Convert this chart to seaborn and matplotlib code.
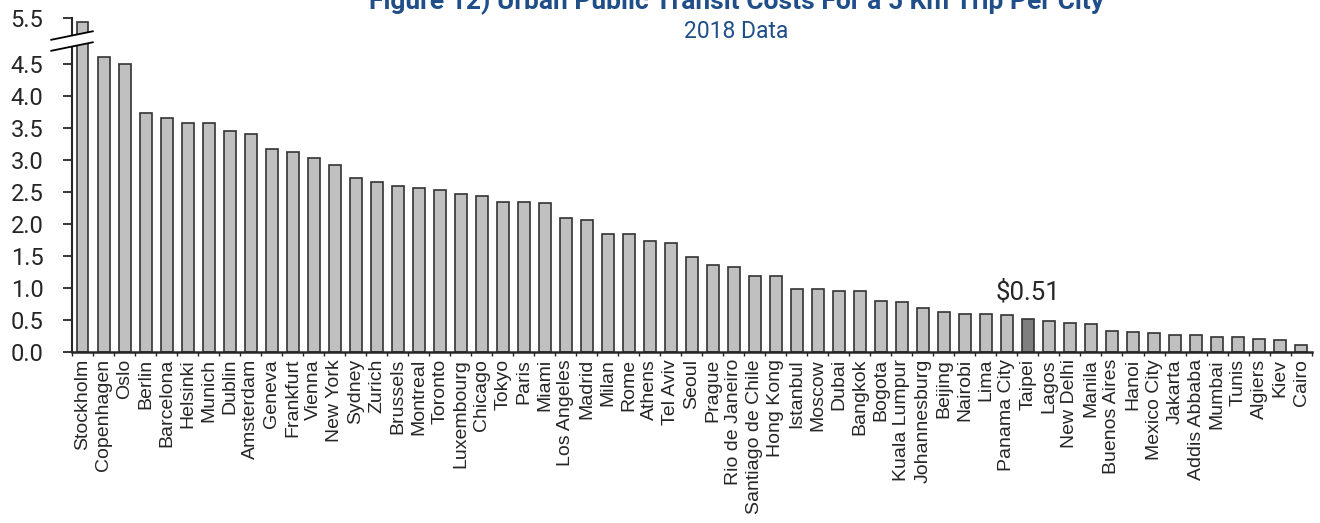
import numpy as np
import pandas as pd
import seaborn as sns
import matplotlib.pyplot as plt

# values (USD per 5 km trip, 2018)
cities = ["Stockholm", "Copenhagen", "Oslo", "Berlin", "Barcelona", "Helsinki", "Munich",
          "Dublin", "Amsterdam", "Geneva", "Frankfurt", "Vienna", "New York", "Sydney",
          "Zurich", "Brussels", "Montreal", "Toronto", "Luxembourg", "Chicago", "Tokyo",
          "Paris", "Miami", "Los Angeles", "Madrid", "Milan", "Rome", "Athens", "Tel Aviv",
          "Seoul", "Prague", "Rio de Janeiro", "Santiago de Chile", "Hong Kong", "Istanbul",
          "Moscow", "Dubai", "Bangkok", "Bogota", "Kuala Lumpur", "Johannesburg", "Beijing",
          "Nairobi", "Lima", "Panama City", "Taipei", "Lagos", "New Delhi", "Manila",
          "Buenos Aires", "Hanoi", "Mexico City", "Jakarta", "Addis Abbaba", "Mumbai",
          "Tunis", "Algiers", "Kiev", "Cairo"]
costs = [5.41, 4.65, 4.51, 3.74, 3.65, 3.58, 3.58, 3.46, 3.40, 3.18, 3.12, 3.03, 2.92, 2.72,
         2.66, 2.59, 2.57, 2.53, 2.47, 2.44, 2.34, 2.34, 2.33, 2.10, 2.07, 1.85, 1.85, 1.73,
         1.71, 1.49, 1.36, 1.33, 1.18, 1.18, 0.99, 0.98, 0.96, 0.96, 0.79, 0.78, 0.69, 0.63,
         0.60, 0.60, 0.58, 0.51, 0.49, 0.46, 0.44, 0.33, 0.32, 0.30, 0.27, 0.26, 0.23, 0.24,
         0.20, 0.19, 0.11]
highlight = "Taipei"
ytick_vals = [0.0, 0.5, 1.0, 1.5, 2.0, 2.5, 3.0, 3.5, 4.0, 4.5, 5.5]

# broken axis: above 4.5 the scale is squeezed
brk = 4.5
squeeze = 0.72
def to_axis(v):
    v = np.asarray(v, dtype=float)
    return np.where(v <= brk, v, brk + (v - brk) * squeeze)

df = pd.DataFrame({"city": cities, "cost": costs})
df["pos"] = to_axis(df["cost"])

sns.set_style("ticks")
plt.rcParams["font.family"] = ["Roboto", "DejaVu Sans"]

fig = plt.figure(figsize=(13.2, 5.23), dpi=100)
ax = fig.add_axes([72 / 1320, 1 - 352 / 523, 1240 / 1320, 334 / 523])

pal = {c: ("#7f7f7f" if c == highlight else "#c0c0c0") for c in cities}
sns.barplot(data=df, x="city", y="pos", hue="city", palette=pal, legend=False,
            width=0.57, edgecolor="#333333", linewidth=1.2, saturation=1, ax=ax)

ax.set_xlim(-0.48, len(cities) - 0.48)
ax.set_ylim(0, to_axis(5.5))
ax.set_yticks(to_axis(ytick_vals))
ax.set_yticklabels([f"{v:.1f}" for v in ytick_vals], fontsize=17)
ax.tick_params(axis="y", direction="out", length=6.5, width=1.3, pad=14)
ax.set_xticks(range(len(cities)))
ax.set_xticklabels(cities, rotation=90, fontsize=14, family="Liberation Sans",
                   ha="center", va="top")
ax.tick_params(axis="x", length=0, pad=5)
ax.set_xticks(np.arange(len(cities) + 1) - 0.5, minor=True)
ax.tick_params(axis="x", which="minor", direction="out", length=3, width=1)
ax.set_xlabel("")
ax.set_ylabel("")
for s in ["top", "right"]:
    ax.spines[s].set_visible(False)
ax.spines["left"].set_linewidth(1.5)
ax.spines["bottom"].set_linewidth(1.8)

# label on the highlighted bar
i = cities.index(highlight)
ax.annotate(f"${costs[i]:.2f}", (i, to_axis(costs[i])), xytext=(0, 11),
            textcoords="offset points", ha="center", va="bottom", fontsize=18.5)

# break marks across the y axis
fig.canvas.draw()
yb = ax.transData.transform((0, to_axis(5.0)))[1]
xb = ax.transAxes.transform((0, 0))[0]
def fpx(x, y):
    return x / 1320, y / 523
dx, dy, gap = 21, 4.3, 5.5
poly_x = [xb - dx, xb + dx, xb + dx, xb - dx]
poly_y = [yb - dy + gap, yb + dy + gap, yb + dy - gap, yb - dy - gap]
fig.patches.append(plt.Polygon([fpx(a, b) for a, b in zip(poly_x, poly_y)],
                               closed=True, transform=fig.transFigure,
                               facecolor="white", edgecolor="none", zorder=5))
for off in (gap, -gap):
    fig.lines.append(plt.Line2D([(xb - dx) / 1320, (xb + dx) / 1320],
                                [(yb - dy + off) / 523, (yb + dy + off) / 523],
                                transform=fig.transFigure, color="black", lw=1.3, zorder=6))

fig.text(0.5576, 1 - 9 / 523, "Figure 12) Urban Public Transit Costs For a 5 Km Trip Per City",
         ha="center", va="baseline", fontsize=19, fontweight="bold", color="#1f4e89")
fig.text(0.5576, 1 - 38 / 523, "2018 Data", ha="center", va="baseline",
         fontsize=16.5, color="#1f4e89")

fig.savefig("out.png", dpi=100)
